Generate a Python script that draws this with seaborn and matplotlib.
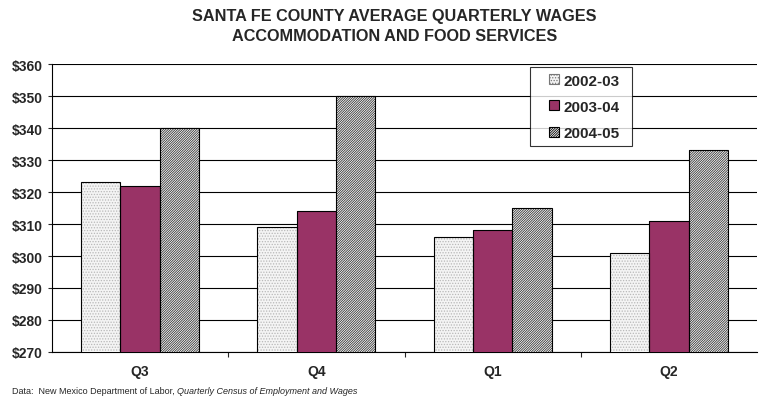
import pandas as pd
import numpy as np
import matplotlib
matplotlib.use("Agg")
import matplotlib.pyplot as plt
import matplotlib.patches as mpatches
from matplotlib.legend_handler import HandlerPatch
import seaborn as sns

# Datos del gráfico
trimestres = ["Q3", "Q4", "Q1", "Q2"]
periodos = ["2002-03", "2003-04", "2004-05"]
salarios_2002_03 = [323, 309, 306, 301]
salarios_2003_04 = [322, 314, 308, 311]
salarios_2004_05 = [340, 350, 315, 333]

df = pd.DataFrame({
    "trimestre": trimestres * 3,
    "periodo": [p for p in periodos for _ in trimestres],
    "salario": salarios_2002_03 + salarios_2003_04 + salarios_2004_05,
})

sns.set_theme(style="white")
plt.rcParams["font.family"] = ["Liberation Sans", "DejaVu Sans"]
plt.rcParams["hatch.linewidth"] = 0.6

fig = plt.figure(figsize=(7.59, 4.02), dpi=100)
ax = fig.add_axes([0.0685, 0.122, 0.929, 0.716])

colores = ["#f4f4f4", "#993366", "#ffffff"]
# color de la trama (se toma del borde) y tipo de trama por periodo
bordes_trama = ["#b8b8b8", "#993366", "#333333"]
tramas = ["......", None, "/" * 14]

sns.barplot(data=df, x="trimestre", y="salario", hue="periodo",
            order=trimestres, hue_order=periodos, palette=colores,
            width=0.67, saturation=1, legend=False, ax=ax,
            linewidth=0, zorder=3)

for cont, trama, borde in zip(ax.containers, tramas, bordes_trama):
    for barra in cont.patches:
        barra.set_edgecolor(borde)
        if trama:
            barra.set_hatch(trama)

# contorno negro de todas las barras
sns.barplot(data=df, x="trimestre", y="salario", hue="periodo",
            order=trimestres, hue_order=periodos, fill=False,
            width=0.67, legend=False, ax=ax,
            edgecolor="black", linewidth=0.8, zorder=4)

ax.set_ylim(270, 360)
ax.set_xlim(-0.5, 3.5)
ax.set_yticks(np.arange(270, 361, 10))
ax.set_yticklabels([f"${v}" for v in range(270, 361, 10)], fontsize=10, fontweight="bold")
ax.set_xticks(range(4))
ax.set_xticklabels(trimestres, fontsize=10, fontweight="bold")
ax.set_xticks([0.5, 1.5, 2.5], minor=True)
ax.tick_params(axis="x", which="major", length=0, pad=9)
ax.tick_params(axis="x", which="minor", length=3.5, width=0.8, direction="out", bottom=True)
ax.tick_params(axis="y", length=3, width=0.8, direction="out", left=True, pad=3.8)
ax.set_xlabel("")
ax.set_ylabel("")

ax.yaxis.grid(True, color="black", linewidth=0.8, zorder=0)
ax.set_axisbelow(True)
for lado in ["top", "right"]:
    ax.spines[lado].set_visible(False)
for lado in ["left", "bottom"]:
    ax.spines[lado].set_color("black")
    ax.spines[lado].set_linewidth(0.8)


# cuadrito de la leyenda pegado a la derecha del hueco del manejador
def cuadro_derecha(legend, orig_handle, xdescent, ydescent, width, height, fontsize):
    return mpatches.Rectangle((-xdescent + width - height, -ydescent), height, height)


manejadores = []
for color, trama in zip(colores, tramas):
    manejadores.append(mpatches.Patch(facecolor=color, hatch=trama,
                                      edgecolor="#777777" if trama == "......" else "black",
                                      linewidth=0.8))
leg = ax.legend(manejadores, periodos, loc="upper left", mode="expand",
                bbox_to_anchor=(0.678, 0.0, 0.1447, 0.9896), frameon=True, fancybox=False,
                prop={"weight": "bold", "size": 11}, handlelength=1.5,
                handleheight=0.65, handletextpad=0.25, labelspacing=0.8,
                borderpad=0.42, borderaxespad=0,
                handler_map={mpatches.Patch: HandlerPatch(patch_func=cuadro_derecha)})
leg.get_frame().set_edgecolor("black")
leg.get_frame().set_linewidth(0.8)
leg.set_zorder(5)

fig.text(0.52, 0.959, "SANTA FE COUNTY AVERAGE QUARTERLY WAGES",
         ha="center", va="center", fontsize=11.7, fontweight="bold")
fig.text(0.52, 0.910, "ACCOMMODATION AND FOOD SERVICES",
         ha="center", va="center", fontsize=11.7, fontweight="bold")

t1 = fig.text(0.016, 0.025, "Data:  New Mexico Department of Labor, ",
              fontsize=6.5, va="center")
fig.canvas.draw()
bb = t1.get_window_extent()
x_fin = bb.x1 / fig.bbox.width
fig.text(x_fin, 0.025, "Quarterly Census of Employment and Wages",
         fontsize=6.5, style="italic", va="center")

fig.savefig("out.png", dpi=100)
